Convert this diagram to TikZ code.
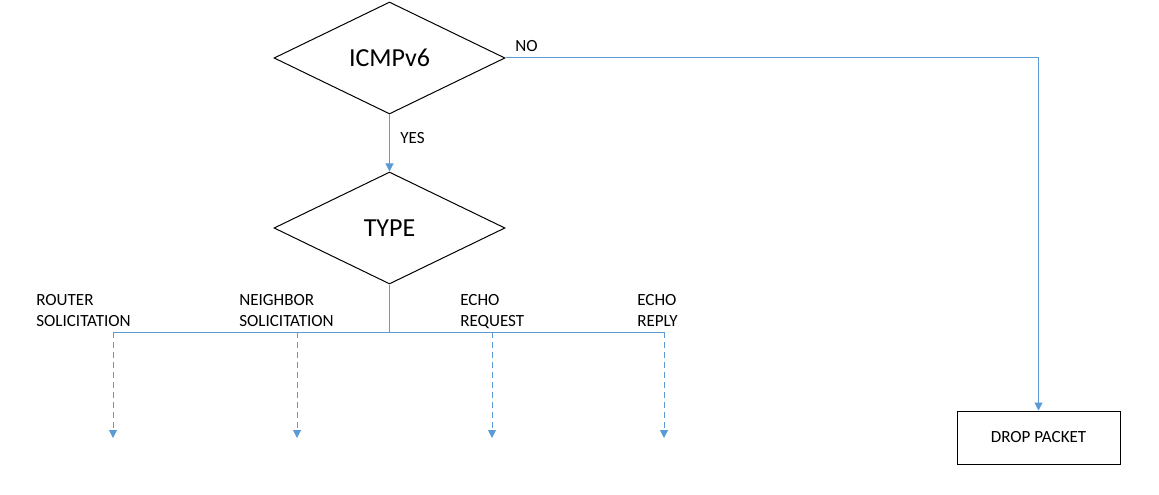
\documentclass[tikz,border=0pt]{standalone}
\usepackage{fontspec}
\setmainfont{Carlito}
\usetikzlibrary{shapes.geometric,arrows.meta}
\definecolor{lnblue}{HTML}{5B9BD5}
\begin{document}
\begin{tikzpicture}[x=0.75pt,y=-0.75pt,
  dec/.style={diamond,draw=black,line width=0.75pt,minimum width=231*0.75pt,minimum height=112*0.75pt,inner sep=0pt,aspect=2.06,font=\fontsize{19.5}{22}\selectfont},
  boxn/.style={rectangle,draw=black,line width=0.75pt,minimum width=163*0.75pt,minimum height=53*0.75pt,inner sep=0pt,font=\fontsize{12.8}{15}\selectfont},
  txt/.style={font=\fontsize{12.8}{15}\selectfont,inner sep=0pt,anchor=west},
  lbl/.style={font=\fontsize{12.8}{15.8}\selectfont,align=left,inner sep=0pt,anchor=north west},
  conn/.style={draw=lnblue,line width=0.75pt},
  arr/.style={conn,-{Triangle[width=6pt,length=6pt]}},
  darr/.style={arr,dash pattern=on 4.5pt off 3pt}]
\useasboundingbox (0,0) rectangle (1159,495);
\node[dec] (icmp) at (389.5,58) {ICMPv6};
\node[dec] (type) at (389.5,228) {TYPE};
\node[boxn] (drop) at (1038.5,437.5) {DROP PACKET};
\draw[arr] (icmp.south) -- (type.north);
\node[txt] (yes) at (400,138) {YES};
\node[txt] (nolbl) at (515,46) {NO};
\draw[arr] (icmp.east) -| (drop.north);
\coordinate (j) at (389.5,332);
\coordinate (b1) at (113,332);
\coordinate (b2) at (297,332);
\coordinate (b3) at (492,332);
\coordinate (b4) at (664,332);
\coordinate (e1) at (113,438);
\coordinate (e2) at (297,438);
\coordinate (e3) at (492,438);
\coordinate (e4) at (664,438);
\draw[conn] (type.south) -- (j);
\draw[conn] (b1) -- (b4);
\draw[darr] (b1) -- (e1);
\draw[darr] (b2) -- (e2);
\draw[darr] (b3) -- (e3);
\draw[darr] (b4) -- (e4);
\node[lbl] (l1) at (36,294) {ROUTER\\SOLICITATION};
\node[lbl] (l2) at (239,294) {NEIGHBOR\\SOLICITATION};
\node[lbl] (l3) at (460,294) {ECHO\\REQUEST};
\node[lbl] (l4) at (637,294) {ECHO\\REPLY};
\end{tikzpicture}
\end{document}
